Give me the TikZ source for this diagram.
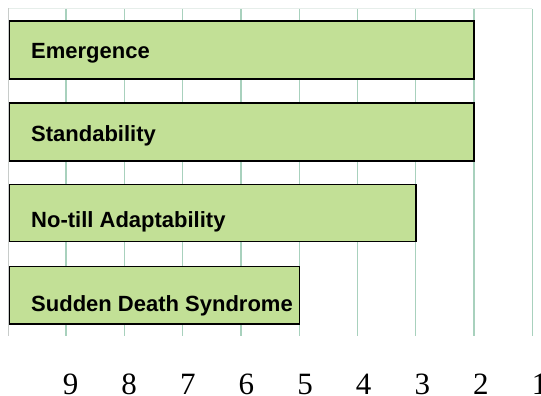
\documentclass[tikz,border=0pt]{standalone}
\usepackage{fontspec}
\setmainfont{Liberation Serif}
\newfontfamily\labelfont{Liberation Sans}
\definecolor{barfill}{HTML}{C2E096}
\definecolor{gridgreen}{HTML}{A8D1BD}
\definecolor{faintline}{HTML}{E6EEEA}
\definecolor{axisgray}{HTML}{C8CCCA}
\begin{document}
\begin{tikzpicture}[x=1pt,y=-1pt,
  gridline/.style={draw=gridgreen,line width=1.3pt},
  barbox/.style={draw=black,line width=1.4pt,fill=barfill},
  barlabel/.style={anchor=base west,inner sep=0pt,font=\labelfont\bfseries\fontsize{22}{24}\selectfont},
  ticklabel/.style={anchor=base,inner sep=0pt,font=\fontsize{31}{34}\selectfont}]
\useasboundingbox (0,0) rectangle (541,396);
\fill[white] (0,0) rectangle (541,396);
% frame lines
\draw[faintline,line width=1pt] (8.5,8.5) -- (532.4,8.5);
\draw[axisgray,line width=1pt] (8.5,8.5) -- (8.5,336);
% vertical grid
\foreach \i in {0,...,8} {
  \draw[gridline] ({66+58.3*\i},9) -- ({66+58.3*\i},336);
}
% bars
\draw[barbox] (9.5,21) rectangle (474.1,79) coordinate (b1);
\draw[barbox] (9.5,103) rectangle (474.1,161) coordinate (b2);
\draw[barbox] (9.5,184.5) rectangle (415.8,241.7) coordinate (b3);
\draw[barbox] (9.5,266.7) rectangle (299.2,324) coordinate (b4);
% labels
\node[barlabel] (l1) at (31,58.3) {Emergence};
\node[barlabel] (l2) at (31,141.7) {Standability};
\node[barlabel] (l3) at (31,227.7) {No-till Adaptability};
\node[barlabel] (l4) at (31,311.7) {Sudden Death Syndrome};
% tick labels
\foreach \v [count=\k from 0] in {9,8,7,6,5,4,3,2,1} {
  \node[ticklabel] (t\v) at ({70.5+58.64*\k},394.5) {\v};
}
\end{tikzpicture}
\end{document}
